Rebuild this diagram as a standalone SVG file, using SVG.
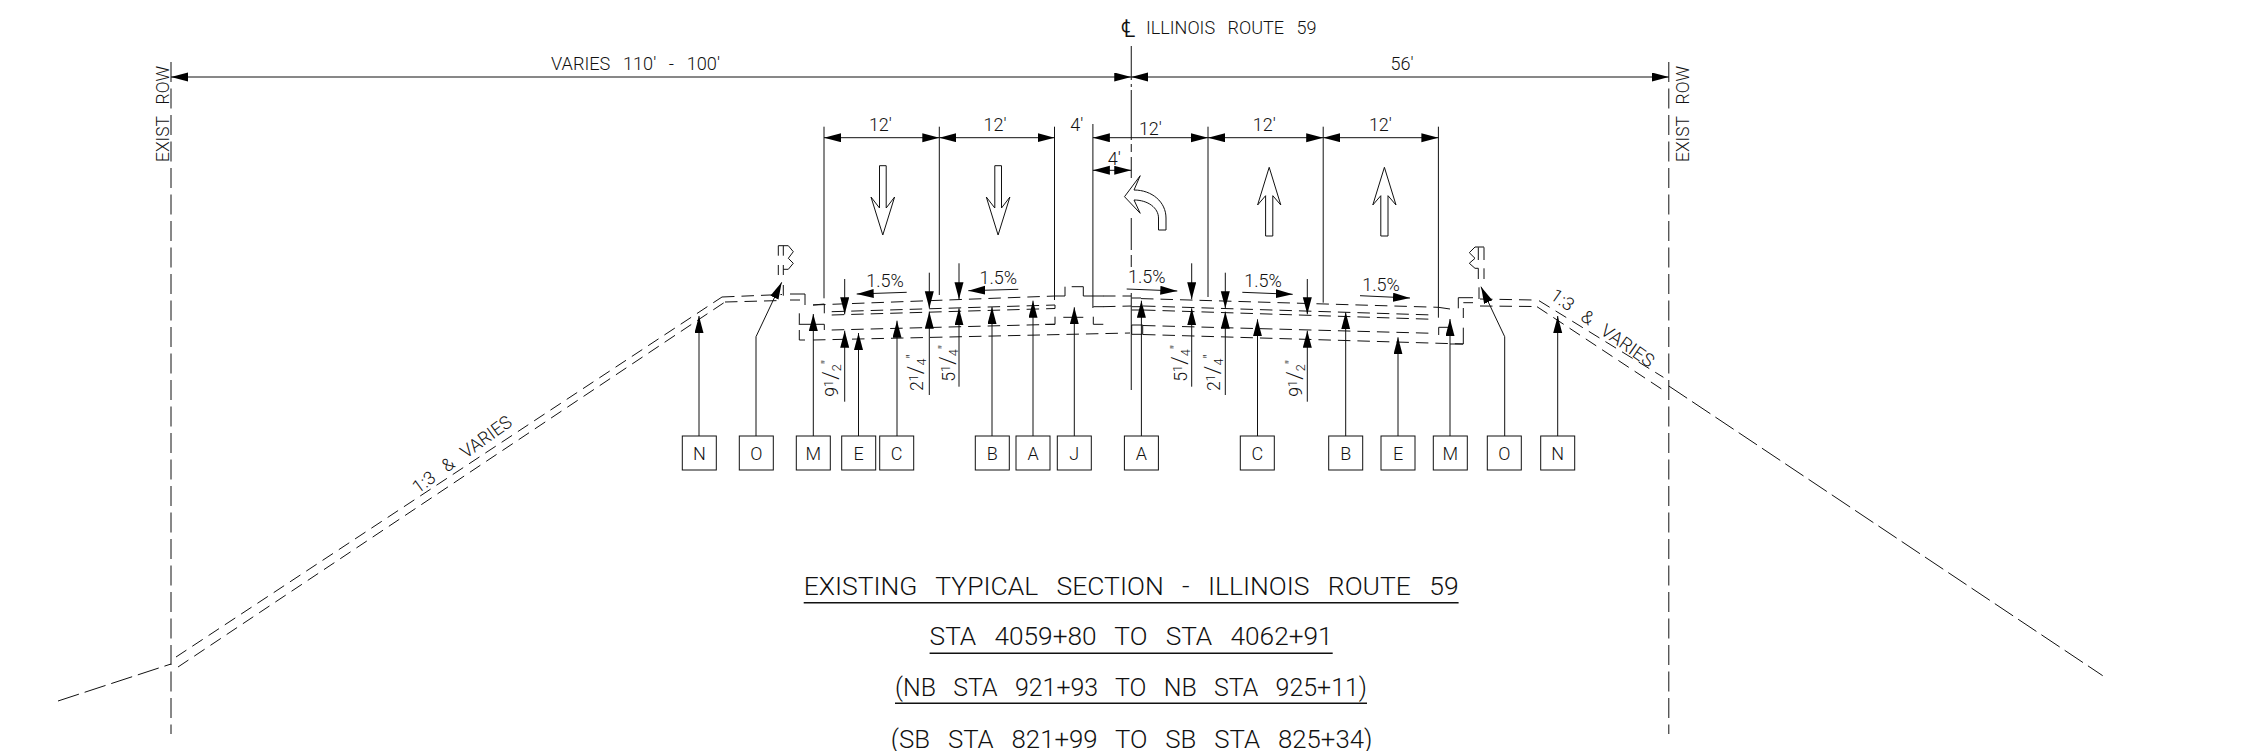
<svg xmlns="http://www.w3.org/2000/svg" width="2250" height="751" viewBox="0 0 2250 751">
<style>
text{font-family:"Roboto","Liberation Sans",sans-serif;font-weight:300;fill:#111;stroke:none;word-spacing:.45em}
.m{text-anchor:middle}
.t18{font-size:18px}.t19{font-size:19px}.t26{font-size:25.7px}
line,path,polyline,rect{stroke:#111;stroke-width:1;fill:none}
.h{fill:#000;stroke:none}
.dd{stroke-dasharray:12.5 7}
.gr{stroke-dasharray:22 6}
.row{stroke-dasharray:20 6.5}
.u{stroke-width:1.6}
.node rect{fill:#fff}
.la{fill:#fff}
</style>
<defs>
<marker id="a" markerUnits="userSpaceOnUse" markerWidth="18" markerHeight="10" refX="17" refY="4.5" orient="auto"><path class="h" d="M0 0L17 4.5L0 9Z"/></marker>
<marker id="s" markerUnits="userSpaceOnUse" markerWidth="18" markerHeight="10" refX="17" refY="4.5" orient="auto-start-reverse"><path class="h" d="M0 0L17 4.5L0 9Z"/></marker>
</defs>
<g id="ground">
<line x1="171" y1="62" x2="171" y2="734" class="row"/>
<line x1="1668.8" y1="62" x2="1668.8" y2="734" class="row"/>
<line x1="58" y1="701" x2="171" y2="664" class="gr"/>
<line x1="1668.8" y1="386" x2="2102.7" y2="675.7" class="gr"/>
<line x1="176" y1="657" x2="722" y2="297" class="dd"/>
<line x1="178" y1="667" x2="725" y2="302" class="dd"/>
<line x1="722" y1="297" x2="782" y2="294.5" class="dd"/>
<line x1="725" y1="302" x2="782" y2="300.5" class="dd"/>
<line x1="1480" y1="299" x2="1533" y2="300" class="dd"/>
<line x1="1480" y1="306" x2="1533" y2="306.5" class="dd"/>
<line x1="1539" y1="300.7" x2="1663.4" y2="377.3" class="dd"/>
<line x1="1537" y1="306.7" x2="1662" y2="389.3" class="dd"/>
</g>
<g id="pavement">
<line x1="813" y1="305" x2="1055" y2="296" class="dd"/>
<line x1="831.7" y1="311.7" x2="1055" y2="305" class="dd"/>
<line x1="831.7" y1="315" x2="1055" y2="308.5" class="dd"/>
<line x1="831.7" y1="330" x2="1055" y2="324.3" class="dd"/>
<line x1="813" y1="340" x2="1130" y2="333" class="dd"/>
<line x1="1103" y1="296" x2="1131" y2="296" class="dd"/>
<line x1="1103" y1="306.7" x2="1131" y2="306" class="dd"/>
<line x1="1141" y1="298.6" x2="1438" y2="307.3" class="dd"/>
<line x1="1143" y1="306" x2="1433" y2="315" class="dd"/>
<line x1="1143" y1="310" x2="1433" y2="319.3" class="dd"/>
<line x1="1143" y1="325.5" x2="1433" y2="333.3" class="dd"/>
<line x1="1143" y1="334.5" x2="1463" y2="344" class="dd"/>
<path d="M1055 296H1065V286.7M1071.7 286.7H1083.3V296H1103.3M1093.3 306.7H1103.3M1063.3 317.3H1083.3M1093.3 316.7V324.3H1103.3M1055 305V308.5M1055 316.7V324.3H1045"/>
<path d="M824.3 304V313.3M800 324.3H824.3V330M813 305L824.3 304"/>
<path d="M790 294H805V305M790 300H800M799.3 313.3V325M799.3 330V340H805"/>
<path d="M1131.7 298H1141M1131.7 306.7H1141M1131.7 310H1141M1131.7 325H1142.7V334.3H1131.7Z"/>
<path d="M1438.4 307.3L1450 309M1438.7 335V327.3H1450M1463.3 344V327.7M1463.3 318V308M1463.3 344H1450M1458.3 308.3V297.7H1473M1463.3 302.7H1473"/>
</g>
<g id="curbs">
<path d="M778.3 245.7V255.7M778.3 265V275M783.3 245.7V255.7M783.3 265V275M783.3 285V295.7M778.3 245.7H788.3L793.3 251.7L788.3 258.3L793.3 263.3L788.3 269.3H783.3"/>
<path d="M1478.3 247.3V260M1478.3 268.3V279M1484 247.3V260M1484 268.3V279M1479 287.3V299M1484 247H1475L1469.3 252.7L1475 258.3L1469.3 263.3L1475 268.3H1478.3"/>
</g>
<g id="lane-arrows">
<path class="la" d="M879.5 165.7H886.2V208L894.6 197L882.8 235L871 197L879.5 208Z"/>
<path class="la" d="M994.8 165.7H1001.5V208L1009.9 197L998.1 235L986.3 197L994.8 208Z"/>
<path class="la" d="M1269.2 167.3L1280.8 205L1272.8 195.7V236H1265.6V195.7L1257.6 205Z"/>
<path class="la" d="M1384.4 167.3L1396 205L1388 195.7V236H1380.8V195.7L1372.8 205Z"/>
<path class="la" d="M1124.5 196.7L1140.2 175.7L1134 190C1152 190 1166 202 1166 218V230H1158.5V218C1158.5 208 1148 200 1134 200L1140.2 213.3Z"/>
</g>
<g id="connectors">
<line x1="171" y1="77" x2="1131.25" y2="77" marker-start="url(#s)" marker-end="url(#a)"/>
<line x1="1668.8" y1="77" x2="1131.25" y2="77" marker-start="url(#s)" marker-end="url(#a)"/>
<path d="M1131.25 46V80M1131.25 84V87M1131.25 90V140M1131.25 144V152M1131.25 157V178M1131.25 218V250M1131.25 255V267M1131.25 293V390"/>
<path d="M824 126.7V298.3M939.3 126.7V295M1054.5 126.7V300M1092.9 124V308M1208 126.7V297M1323.2 126.7V302.7M1438.4 126.7V317.7"/>
<line x1="824" y1="137.7" x2="939.3" y2="137.7" marker-start="url(#s)" marker-end="url(#a)"/>
<line x1="939.3" y1="137.7" x2="1054.5" y2="137.7" marker-start="url(#s)" marker-end="url(#a)"/>
<line x1="1092.9" y1="137.7" x2="1208" y2="137.7" marker-start="url(#s)" marker-end="url(#a)"/>
<line x1="1208" y1="137.7" x2="1323.2" y2="137.7" marker-start="url(#s)" marker-end="url(#a)"/>
<line x1="1323.2" y1="137.7" x2="1438.4" y2="137.7" marker-start="url(#s)" marker-end="url(#a)"/>
<line x1="1092.9" y1="170.3" x2="1131.25" y2="170.3" marker-start="url(#s)" marker-end="url(#a)"/>
<line x1="906.7" y1="292.3" x2="856.7" y2="294" marker-end="url(#a)"/>
<line x1="1018.3" y1="289.3" x2="968.3" y2="290.7" marker-end="url(#a)"/>
<line x1="1126.7" y1="289" x2="1177.3" y2="291" marker-end="url(#a)"/>
<line x1="1242.3" y1="292.3" x2="1292.7" y2="294.3" marker-end="url(#a)"/>
<line x1="1360" y1="295.7" x2="1410" y2="298" marker-end="url(#a)"/>
<line x1="844.7" y1="279" x2="844.7" y2="314.3" marker-end="url(#a)"/>
<line x1="844.7" y1="401.7" x2="844.7" y2="330.7" marker-end="url(#a)"/>
<line x1="929.3" y1="272.7" x2="929.3" y2="308.3" marker-end="url(#a)"/>
<line x1="929.3" y1="395" x2="929.3" y2="311.7" marker-end="url(#a)"/>
<line x1="959" y1="263.3" x2="959" y2="299.3" marker-end="url(#a)"/>
<line x1="959" y1="386.7" x2="959" y2="308.3" marker-end="url(#a)"/>
<line x1="1191.7" y1="263.3" x2="1191.7" y2="299.3" marker-end="url(#a)"/>
<line x1="1191.7" y1="386.7" x2="1191.7" y2="308.3" marker-end="url(#a)"/>
<line x1="1225.3" y1="272.7" x2="1225.3" y2="308.3" marker-end="url(#a)"/>
<line x1="1225.3" y1="395" x2="1225.3" y2="311.7" marker-end="url(#a)"/>
<line x1="1307.3" y1="279" x2="1307.3" y2="314.3" marker-end="url(#a)"/>
<line x1="1307.3" y1="401.7" x2="1307.3" y2="330.7" marker-end="url(#a)"/>
<line x1="699" y1="436" x2="699" y2="316" marker-end="url(#a)"/>
<polyline points="756,436 756,336.7 781.7,282.3" marker-end="url(#a)"/>
<line x1="813.3" y1="436" x2="813.3" y2="314" marker-end="url(#a)"/>
<line x1="858.5" y1="436" x2="858.5" y2="333" marker-end="url(#a)"/>
<line x1="897" y1="436" x2="897" y2="320.7" marker-end="url(#a)"/>
<line x1="992" y1="436" x2="992" y2="307" marker-end="url(#a)"/>
<line x1="1033" y1="436" x2="1033" y2="300.7" marker-end="url(#a)"/>
<line x1="1074.3" y1="436" x2="1074.3" y2="307.3" marker-end="url(#a)"/>
<line x1="1141.4" y1="436" x2="1141.4" y2="300.7" marker-end="url(#a)"/>
<line x1="1257.5" y1="436" x2="1257.5" y2="319.3" marker-end="url(#a)"/>
<line x1="1345.7" y1="436" x2="1345.7" y2="312.3" marker-end="url(#a)"/>
<line x1="1398" y1="436" x2="1398" y2="337.3" marker-end="url(#a)"/>
<line x1="1450" y1="436" x2="1450" y2="319" marker-end="url(#a)"/>
<polyline points="1504.7,436 1504.7,336.7 1481,286.7" marker-end="url(#a)"/>
<line x1="1557.7" y1="436" x2="1557.7" y2="316" marker-end="url(#a)"/>
</g>
<g id="node-n1" class="node"><rect x="682.3" y="436" width="34" height="34"/><text class="m t18" x="699.3" y="459.5">N</text></g>
<g id="node-o1" class="node"><rect x="739.3" y="436" width="34" height="34"/><text class="m t18" x="756.3" y="459.5">O</text></g>
<g id="node-m1" class="node"><rect x="796.3" y="436" width="34" height="34"/><text class="m t18" x="813.3" y="459.5">M</text></g>
<g id="node-e1" class="node"><rect x="841.7" y="436" width="34" height="34"/><text class="m t18" x="858.7" y="459.5">E</text></g>
<g id="node-c1" class="node"><rect x="879.7" y="436" width="34" height="34"/><text class="m t18" x="896.7" y="459.5">C</text></g>
<g id="node-b1" class="node"><rect x="975.3" y="436" width="34" height="34"/><text class="m t18" x="992.3" y="459.5">B</text></g>
<g id="node-a1" class="node"><rect x="1016" y="436" width="34" height="34"/><text class="m t18" x="1033" y="459.5">A</text></g>
<g id="node-j" class="node"><rect x="1057.3" y="436" width="34" height="34"/><text class="m t18" x="1074.3" y="459.5">J</text></g>
<g id="node-a2" class="node"><rect x="1124.4" y="436" width="34" height="34"/><text class="m t18" x="1141.4" y="459.5">A</text></g>
<g id="node-c2" class="node"><rect x="1240.3" y="436" width="34" height="34"/><text class="m t18" x="1257.3" y="459.5">C</text></g>
<g id="node-b2" class="node"><rect x="1328.7" y="436" width="34" height="34"/><text class="m t18" x="1345.7" y="459.5">B</text></g>
<g id="node-e2" class="node"><rect x="1381" y="436" width="34" height="34"/><text class="m t18" x="1398" y="459.5">E</text></g>
<g id="node-m2" class="node"><rect x="1433.3" y="436" width="34" height="34"/><text class="m t18" x="1450.3" y="459.5">M</text></g>
<g id="node-o2" class="node"><rect x="1487.3" y="436" width="34" height="34"/><text class="m t18" x="1504.3" y="459.5">O</text></g>
<g id="node-n2" class="node"><rect x="1540.7" y="436" width="34" height="34"/><text class="m t18" x="1557.7" y="459.5">N</text></g>
<g id="labels">
<text x="1121" y="37" font-size="25" style="font-family:'DejaVu Sans',sans-serif">℄</text>
<text x="1146" y="34" class="t19" textLength="170.5" lengthAdjust="spacingAndGlyphs">ILLINOIS ROUTE 59</text>
<text x="551" y="70" class="t18" textLength="169" lengthAdjust="spacingAndGlyphs">VARIES 110' - 100'</text>
<text class="m t18" x="1402" y="69.5">56'</text>
<text class="m t18" x="880.4" y="130.5">12'</text>
<text class="m t18" x="995" y="130.5">12'</text>
<text class="m t18" x="1076.8" y="130.5">4'</text>
<text class="m t18" x="1150.4" y="134.5">12'</text>
<text class="m t18" x="1264.3" y="130.5">12'</text>
<text class="m t18" x="1380.4" y="130.5">12'</text>
<text class="m t18" x="1114.3" y="164.5">4'</text>
<text class="t18" transform="translate(169 162) rotate(-90)" textLength="96" lengthAdjust="spacingAndGlyphs">EXIST ROW</text>
<text class="t18" transform="translate(1689 162) rotate(-90)" textLength="96" lengthAdjust="spacingAndGlyphs">EXIST ROW</text>
<text class="m t18" x="885" y="287.3">1.5%</text>
<text class="m t18" x="998.3" y="284.3">1.5%</text>
<text class="m t18" x="1146.7" y="282.7">1.5%</text>
<text class="m t18" x="1263" y="287.3">1.5%</text>
<text class="m t18" x="1381" y="291">1.5%</text>
<text class="t18" transform="translate(838.3 396.7) rotate(-90)" textLength="37" lengthAdjust="spacingAndGlyphs">9<tspan font-size="13" dy="-5">1</tspan><tspan font-size="22" dy="5">/</tspan><tspan font-size="13" dy="3">2</tspan><tspan font-size="16" dy="-8">''</tspan></text>
<text class="t18" transform="translate(923 391) rotate(-90)" textLength="37" lengthAdjust="spacingAndGlyphs">2<tspan font-size="13" dy="-5">1</tspan><tspan font-size="22" dy="5">/</tspan><tspan font-size="13" dy="3">4</tspan><tspan font-size="16" dy="-8">''</tspan></text>
<text class="t18" transform="translate(955 381.7) rotate(-90)" textLength="37" lengthAdjust="spacingAndGlyphs">5<tspan font-size="13" dy="-5">1</tspan><tspan font-size="22" dy="5">/</tspan><tspan font-size="13" dy="3">4</tspan><tspan font-size="16" dy="-8">''</tspan></text>
<text class="t18" transform="translate(1187.3 381.7) rotate(-90)" textLength="37" lengthAdjust="spacingAndGlyphs">5<tspan font-size="13" dy="-5">1</tspan><tspan font-size="22" dy="5">/</tspan><tspan font-size="13" dy="3">4</tspan><tspan font-size="16" dy="-8">''</tspan></text>
<text class="t18" transform="translate(1220 391) rotate(-90)" textLength="37" lengthAdjust="spacingAndGlyphs">2<tspan font-size="13" dy="-5">1</tspan><tspan font-size="22" dy="5">/</tspan><tspan font-size="13" dy="3">4</tspan><tspan font-size="16" dy="-8">''</tspan></text>
<text class="t18" transform="translate(1302.3 396.7) rotate(-90)" textLength="37" lengthAdjust="spacingAndGlyphs">9<tspan font-size="13" dy="-5">1</tspan><tspan font-size="22" dy="5">/</tspan><tspan font-size="13" dy="3">2</tspan><tspan font-size="16" dy="-8">''</tspan></text>
<text class="t18" transform="translate(418 494) rotate(-36)" textLength="118" lengthAdjust="spacingAndGlyphs">1:3 &amp; VARIES</text>
<text class="t18" transform="translate(1549 298) rotate(35)" textLength="122" lengthAdjust="spacingAndGlyphs">1:3 &amp; VARIES</text>
<text class="t26" x="803.7" y="595" textLength="654.9" lengthAdjust="spacingAndGlyphs">EXISTING TYPICAL SECTION - ILLINOIS ROUTE 59</text>
<line class="u" x1="803.7" y1="602.7" x2="1458.6" y2="602.7"/>
<text class="t26" x="929.6" y="645" textLength="403.1" lengthAdjust="spacingAndGlyphs">STA 4059+80 TO STA 4062+91</text>
<line class="u" x1="929.6" y1="653.3" x2="1332.7" y2="653.3"/>
<text class="t26" x="895" y="696" textLength="472" lengthAdjust="spacingAndGlyphs">(NB STA 921+93 TO NB STA 925+11)</text>
<line class="u" x1="895" y1="703.3" x2="1367" y2="703.3"/>
<text class="t26" x="890.7" y="747.7" textLength="481.7" lengthAdjust="spacingAndGlyphs">(SB STA 821+99 TO SB STA 825+34)</text>
</g>
</svg>
